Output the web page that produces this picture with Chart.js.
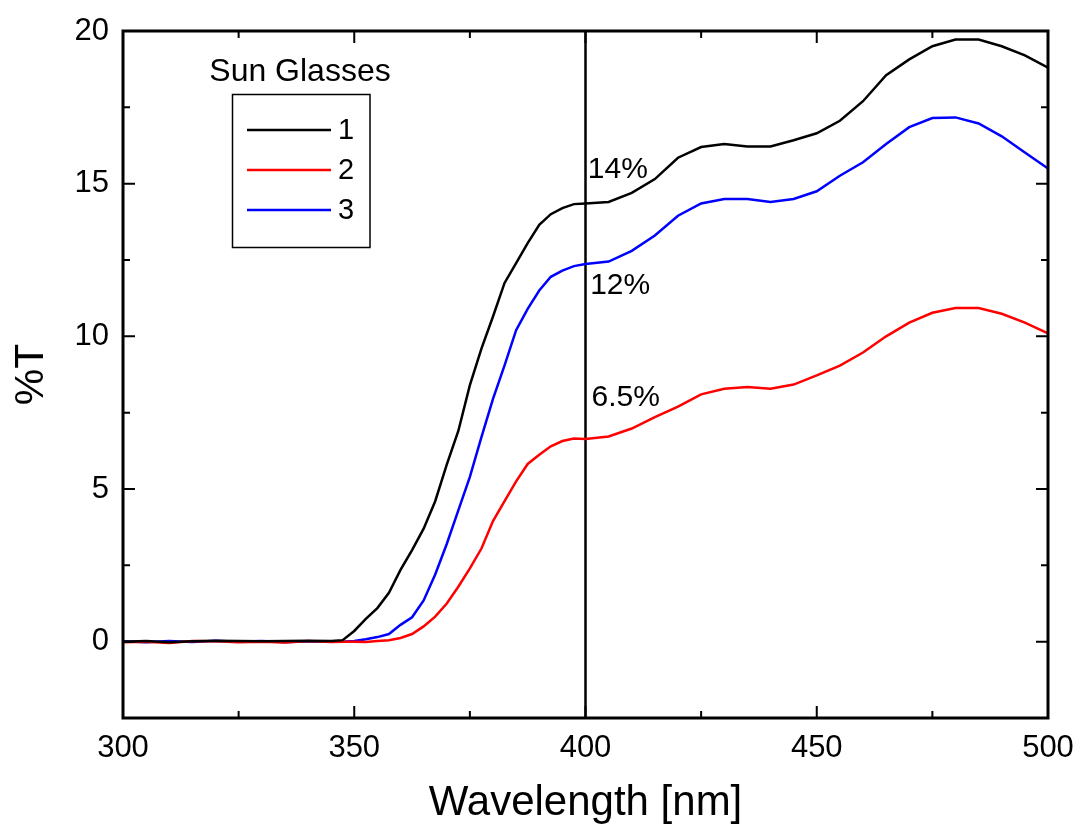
<!DOCTYPE html>
<html>
<head>
<meta charset="utf-8">
<title>Sun Glasses %T</title>
<script src="https://cdn.jsdelivr.net/npm/chart.js@4.4.1/dist/chart.umd.min.js"></script>
<style>
    html, body { margin: 0; padding: 0; background: #ffffff; }
    canvas { display: block; }
</style>
</head>
<body>
<canvas id="graficoT" width="1079" height="829"></canvas>
<script>

// wavelength grid [nm]
const wavelength = [
    300, 305, 310, 315, 320, 325, 330, 335, 340, 345,
    347.5, 350, 352.5, 355, 357.5, 360, 362.5, 365, 367.5, 370,
    372.5, 375, 377.5, 380, 382.5, 385, 387.5, 390, 392.5, 395,
    397.5, 400,
    405, 410, 415, 420, 425, 430, 435, 440, 445, 450,
    455, 460, 465, 470, 475, 480, 485, 490, 495, 500
];

// %T
const glasses1 = [
    0.00, 0.02, -0.02, 0.01, 0.03, 0.02, 0.01, 0.02, 0.03, 0.02,
    0.05, 0.35, 0.75, 1.10, 1.60, 2.35, 3.00, 3.70, 4.60, 5.80,
    6.90, 8.40, 9.60, 10.65, 11.75, 12.40, 13.05, 13.65, 14.00, 14.20,
    14.33, 14.35,
    14.40, 14.70, 15.15, 15.85, 16.20, 16.30, 16.22, 16.22, 16.42, 16.65,
    17.06, 17.70, 18.55, 19.07, 19.50, 19.72, 19.72, 19.50, 19.20, 18.80
];

const glasses2 = [
    -0.02, 0.00, -0.04, 0.02, 0.01, -0.02, 0.00, -0.03, 0.02, -0.01,
    0.00, 0.00, -0.01, 0.02, 0.05, 0.12, 0.25, 0.50, 0.82, 1.25,
    1.80, 2.40, 3.05, 3.95, 4.60, 5.25, 5.82, 6.12, 6.40, 6.57,
    6.65, 6.64,
    6.72, 6.98, 7.35, 7.70, 8.10, 8.28, 8.34, 8.28, 8.42, 8.72,
    9.04, 9.47, 10.00, 10.45, 10.77, 10.93, 10.93, 10.74, 10.45, 10.10
];

const glasses3 = [
    0.01, -0.02, 0.02, -0.01, 0.03, 0.00, 0.02, -0.02, 0.01, 0.00,
    0.00, 0.02, 0.08, 0.15, 0.25, 0.55, 0.80, 1.35, 2.20, 3.20,
    4.30, 5.40, 6.70, 7.95, 9.05, 10.20, 10.90, 11.50, 11.95, 12.15,
    12.30, 12.37,
    12.45, 12.80, 13.30, 13.95, 14.35, 14.50, 14.50, 14.40, 14.50, 14.75,
    15.26, 15.70, 16.30, 16.85, 17.15, 17.17, 16.97, 16.55, 16.02, 15.50
];

const serieNomes = ["1", "2", "3"];
const serieCores = ["#000000", "#ff0000", "#0000ff"];
const legendaTitulo = "Sun Glasses";

// vertical marker at 400 nm
const marcadorX = [400, 400];
const marcadorY = [-2.5, 20];

// labels next to the marker
const rotulosTexto = ["14%", "12%", "6.5%"];
const rotulosX = [400.5, 401, 401.3];
const rotulosY = [15.19, 11.39, 7.73];

// axes
const xMin = 300, xMax = 500;
const yMin = -2.5, yMax = 20;
const xTicks = [300, 350, 400, 450, 500];
const yTicks = [0, 5, 10, 15, 20];
const xMinorTicks = [325, 375, 425, 475];
const yMinorTicks = [-2.5, 2.5, 7.5, 12.5, 17.5];

const fonte = '"Liberation Sans", Arial, sans-serif';


const molduraPlugin = {
    id: "moldura",
    afterDatasetsDraw(chart) {
        const ctx = chart.ctx;
        const a = chart.chartArea;
        const sx = chart.scales.x;
        const sy = chart.scales.y;

        ctx.save();
        ctx.strokeStyle = "#000000";

        // ticks, inward, all four sides
        ctx.lineWidth = 2;
        const marca = (vals, len, horizontal) => {
            vals.forEach(v => {
                ctx.beginPath();
                if (horizontal) {
                    const px = sx.getPixelForValue(v);
                    ctx.moveTo(px, a.bottom);
                    ctx.lineTo(px, a.bottom - len);
                    ctx.moveTo(px, a.top);
                    ctx.lineTo(px, a.top + len);
                } else {
                    const py = sy.getPixelForValue(v);
                    ctx.moveTo(a.left, py);
                    ctx.lineTo(a.left + len, py);
                    ctx.moveTo(a.right, py);
                    ctx.lineTo(a.right - len, py);
                }
                ctx.stroke();
            });
        };
        marca(xTicks, 12, true);
        marca(xMinorTicks, 7, true);
        marca(yTicks, 12, false);
        marca(yMinorTicks, 7, false);

        ctx.lineWidth = 3;
        ctx.strokeRect(a.left, a.top, a.right - a.left, a.bottom - a.top);

        // text labels
        ctx.fillStyle = "#000000";
        ctx.font = "30px " + fonte;
        ctx.textAlign = "left";
        ctx.textBaseline = "alphabetic";
        rotulosTexto.forEach((t, i) => {
            ctx.fillText(t, sx.getPixelForValue(rotulosX[i]), sy.getPixelForValue(rotulosY[i]));
        });

        // legend
        ctx.font = "32px " + fonte;
        ctx.textAlign = "center";
        ctx.textBaseline = "middle";
        ctx.fillText(legendaTitulo, 300, 72);

        ctx.lineWidth = 1.5;
        ctx.strokeRect(232.5, 94.5, 137.5, 153);

        ctx.font = "29px " + fonte;
        ctx.textAlign = "left";
        serieNomes.forEach((nome, i) => {
            const y = 130 + i * 40;
            ctx.strokeStyle = serieCores[i];
            ctx.lineWidth = 2.5;
            ctx.beginPath();
            ctx.moveTo(247, y);
            ctx.lineTo(331, y);
            ctx.stroke();
            ctx.fillText(nome, 338, y + 1);
        });

        ctx.restore();
    }
};

function serie(valores) {
    return wavelength.map((w, i) => ({ x: w, y: valores[i] }));
}

const dadosSeries = [glasses1, glasses2, glasses3];

const datasets = dadosSeries.map((valores, i) => ({
    label: serieNomes[i],
    data: serie(valores),
    borderColor: serieCores[i],
    borderWidth: 2.5,
    pointRadius: 0,
    tension: 0,
    fill: false
}));

datasets.push({
    label: "400 nm",
    data: marcadorX.map((x, i) => ({ x: x, y: marcadorY[i] })),
    borderColor: "#000000",
    borderWidth: 2.5,
    pointRadius: 0,
    fill: false
});

const grafico = new Chart(document.getElementById("graficoT"), {

    type: "line",

    data: { datasets: datasets },

    plugins: [molduraPlugin],

    options: {

        responsive: false,
        animation: false,

        layout: {
            padding: { left: 0, top: 31, right: 31, bottom: 0 }
        },

        plugins: {
            legend: { display: false },
            tooltip: { enabled: false }
        },

        scales: {

            x: {
                type: "linear",
                min: xMin,
                max: xMax,
                afterBuildTicks: scale => {
                    scale.ticks = xTicks.map(v => ({ value: v }));
                },
                afterFit: scale => {
                    scale.height = 111;
                    scale.paddingLeft = 0;
                    scale.paddingRight = 0;
                },
                grid: { display: false, drawTicks: false },
                border: { display: false },
                ticks: {
                    color: "#000000",
                    padding: 12,
                    autoSkip: false,
                    maxRotation: 0,
                    font: { family: fonte, size: 31 }
                },
                title: {
                    display: true,
                    text: "Wavelength [nm]",
                    color: "#000000",
                    padding: { top: 0, bottom: 0 },
                    font: { family: fonte, size: 42 }
                }
            },

            y: {
                type: "linear",
                min: yMin,
                max: yMax,
                afterBuildTicks: scale => {
                    scale.ticks = yTicks.map(v => ({ value: v }));
                },
                afterFit: scale => {
                    scale.width = 123;
                    scale.paddingTop = 0;
                    scale.paddingBottom = 0;
                },
                grid: { display: false, drawTicks: false },
                border: { display: false },
                ticks: {
                    color: "#000000",
                    padding: 14,
                    font: { family: fonte, size: 31 }
                },
                title: {
                    display: true,
                    text: "%T",
                    color: "#000000",
                    padding: { top: 7, bottom: 0 },
                    font: { family: fonte, size: 41 }
                }
            }
        }
    }
});
</script>
</body>
</html>
